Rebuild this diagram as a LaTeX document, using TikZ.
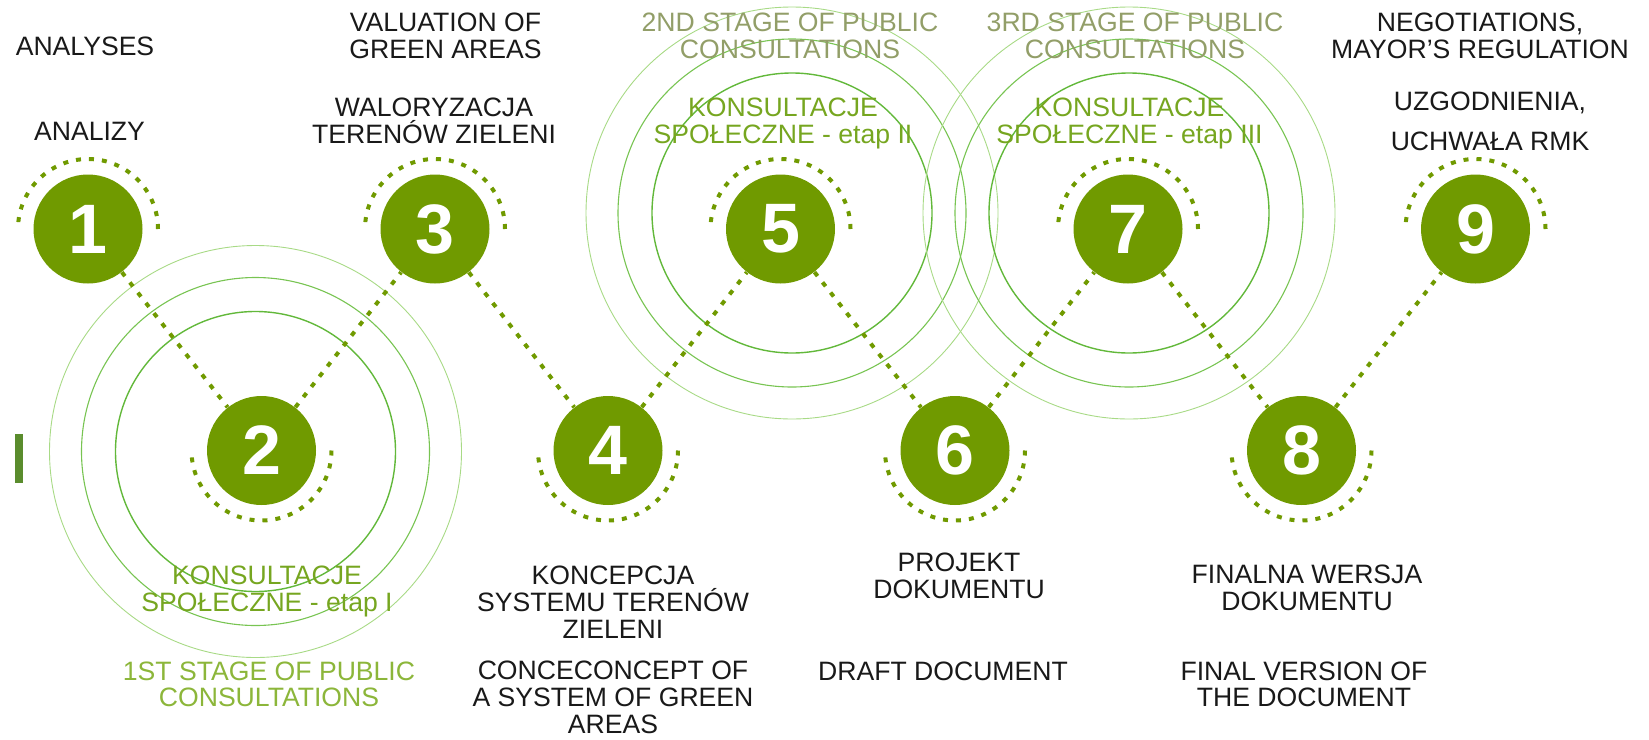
\documentclass[tikz,border=0pt]{standalone}
\usepackage{fontspec}
\setmainfont{Liberation Sans}
\usepackage{xcolor}
\usepackage{tikz}

\definecolor{leaf}{RGB}{112,154,0}
\definecolor{leaftext}{RGB}{118,166,32}
\definecolor{leaflight}{RGB}{140,182,58}
\definecolor{leafgrey}{RGB}{146,158,104}
\definecolor{ink}{RGB}{25,25,25}
\definecolor{ringdark}{RGB}{98,184,58}
\definecolor{ringmid}{RGB}{120,196,82}
\definecolor{ringpale}{RGB}{168,218,134}
\definecolor{barcol}{RGB}{90,140,45}

\begin{document}
\begin{tikzpicture}
    [x=0.5pt,y=-0.5pt,
    font=\fontsize{13.3}{13.3}\selectfont,
    stage/.style={shape=circle,fill=leaf,minimum size=54.5pt,inner sep=0pt,text=white,font=\fontsize{35}{35}\selectfont\bfseries},
    halo/.style={draw=leaf,line width=2pt,dash pattern=on 2.5pt off 4pt},
    edge/.style={draw=leaf,line width=2pt,dash pattern=on 2.5pt off 4pt},
    ring1/.style={draw=ringdark,line width=0.7pt},
    ring2/.style={draw=ringmid,line width=0.55pt},
    ring3/.style={draw=ringpale,line width=0.45pt},
    txt/.style={anchor=base,align=center,text=ink,inner sep=0pt},
    gtxt/.style={txt,text=leaftext},
    etxt/.style={txt,text=leafgrey}]

    \useasboundingbox (0,0) rectangle (1649,739);

    % rings behind the consultation stages
    \draw [ring3] (255.5,451.5) circle [radius=103pt];
    \draw [ring2] (255.5,451.5) circle [radius=87pt];
    \draw [ring1] (255.5,451.5) circle [radius=70pt];
    \draw [ring3] (792,213) circle [radius=103pt];
    \draw [ring2] (792,213) circle [radius=87pt];
    \draw [ring1] (792,213) circle [radius=70pt];
    \draw [ring3] (1129,213) circle [radius=103pt];
    \draw [ring2] (1129,213) circle [radius=87pt];
    \draw [ring1] (1129,213) circle [radius=70pt];

    \fill [barcol] (15,434) rectangle (23.3,483.3);

    \node (s1) [stage] at (88,229) {1};
    \node (s2) [stage] at (261.5,450.5) {2};
    \node (s3) [stage] at (435,229) {3};
    \node (s4) [stage] at (608,450.5) {4};
    \node (s5) [stage] at (780.5,229) {5};
    \node (s6) [stage] at (955,450.5) {6};
    \node (s7) [stage] at (1128,229) {7};
    \node (s8) [stage] at (1301.5,450.5) {8};
    \node (s9) [stage] at (1475.5,229) {9};

    \draw [edge] (s1) -- (s2);
    \draw [edge] (s2) -- (s3);
    \draw [edge] (s3) -- (s4);
    \draw [edge] (s4) -- (s5);
    \draw [edge] (s5) -- (s6);
    \draw [edge] (s6) -- (s7);
    \draw [edge] (s7) -- (s8);
    \draw [edge] (s8) -- (s9);

    % dotted half rings
    \draw [halo] ([xshift=35pt]s1.center) arc [start angle=0,end angle=180,radius=35pt];
    \draw [halo] ([xshift=35pt]s3.center) arc [start angle=0,end angle=180,radius=35pt];
    \draw [halo] ([xshift=35pt]s5.center) arc [start angle=0,end angle=180,radius=35pt];
    \draw [halo] ([xshift=35pt]s7.center) arc [start angle=0,end angle=180,radius=35pt];
    \draw [halo] ([xshift=35pt]s9.center) arc [start angle=0,end angle=180,radius=35pt];
    \draw [halo] ([xshift=35pt]s2.center) arc [start angle=0,end angle=-180,radius=35pt];
    \draw [halo] ([xshift=35pt]s4.center) arc [start angle=0,end angle=-180,radius=35pt];
    \draw [halo] ([xshift=35pt]s6.center) arc [start angle=0,end angle=-180,radius=35pt];
    \draw [halo] ([xshift=35pt]s8.center) arc [start angle=0,end angle=-180,radius=35pt];

    % texts sit on the baseline of their last line
    \node (en1) [txt] at (85,55) {ANALYSES};
    \node (pl1) [txt] at (89.5,140) {ANALIZY};
    \node (en3) [txt] at (445.5,58.3) {VALUATION OF\\GREEN AREAS};
    \node (pl3) [txt] at (434,143) {WALORYZACJA\\TERENÓW ZIELENI};
    \node (en5) [etxt] at (790,58) {2ND STAGE OF PUBLIC\\CONSULTATIONS};
    \node (pl5) [gtxt] at (783,143.3) {KONSULTACJE\\SPOŁECZNE - etap II};
    \node (en7) [etxt] at (1135,58) {3RD STAGE OF PUBLIC\\CONSULTATIONS};
    \node (pl7) [gtxt] at (1129.5,143.3) {KONSULTACJE\\SPOŁECZNE - etap III};
    \node (en9) [txt] at (1480,58.3) {NEGOTIATIONS,\\MAYOR'S REGULATION};
    \node (pl9) [txt] at (1490,150) {UZGODNIENIA,\\[6.6pt]UCHWAŁA RMK};

    \node (pl2) [gtxt] at (267,611) {KONSULTACJE\\SPOŁECZNE - etap I};
    \node (en2) [txt,text=leaflight] at (269,706.7) {1ST STAGE OF PUBLIC\\CONSULTATIONS};
    \node (pl4) [txt] at (613,638) {KONCEPCJA\\SYSTEMU TERENÓW\\ZIELENI};
    \node (en4) [txt] at (613,733) {CONCECONCEPT OF\\A SYSTEM OF GREEN\\AREAS};
    \node (pl6) [txt] at (959,598) {PROJEKT\\DOKUMENTU};
    \node (en6) [txt] at (943,680) {DRAFT DOCUMENT};
    \node (pl8) [txt] at (1307,610) {FINALNA WERSJA\\DOKUMENTU};
    \node (en8) [txt] at (1304,706.7) {FINAL VERSION OF\\THE DOCUMENT};

\end{tikzpicture}
\end{document}
